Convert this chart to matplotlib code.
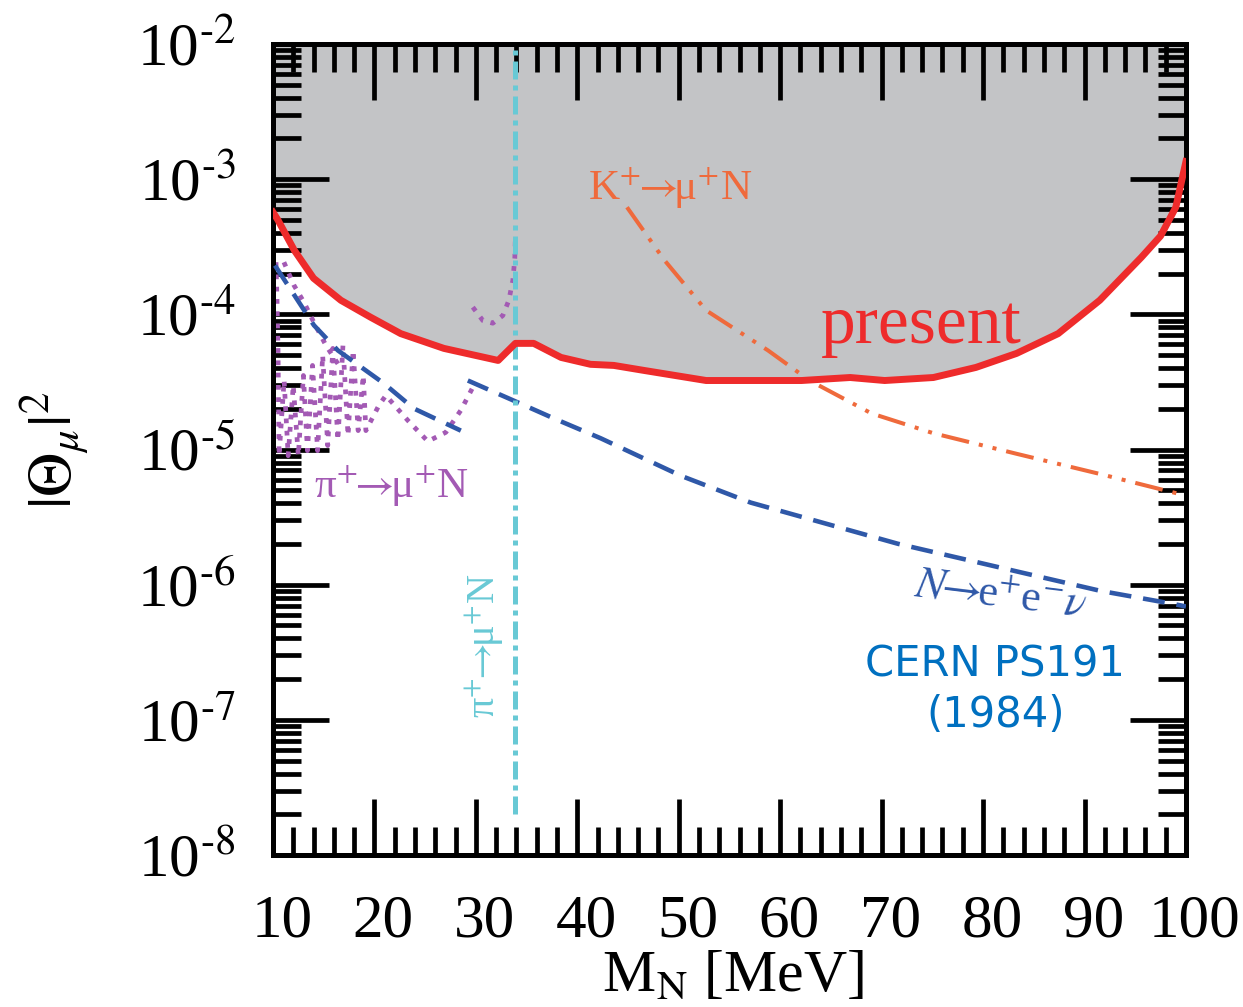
import matplotlib
matplotlib.use('Agg')
import matplotlib.pyplot as plt
import matplotlib.transforms as mtransforms
from matplotlib.ticker import MultipleLocator, LogLocator, NullFormatter, FuncFormatter
import numpy as np

plt.rcParams.update({
    'font.family': ['Liberation Serif', 'DejaVu Serif'],
    'mathtext.fontset': 'stix',
})

# present search bound (red, excluded region above it)
present_m = [10, 10.5, 12.1, 14.0, 16.7, 19.65, 22.6, 26.85, 32.2, 33.9, 35.7,
             38.4, 41.3, 43.6, 46.55, 52.7, 62.1, 66.9, 70.3, 75.1, 79.3, 83.3,
             87.4, 91.5, 95.6, 97.5, 99.0, 100]
present_th = [5.7e-4, 4.97e-4, 2.98e-4, 1.85e-4, 1.27e-4, 9.5e-5, 7.2e-5, 5.6e-5,
              4.56e-5, 6.1e-5, 6.1e-5, 4.8e-5, 4.27e-5, 4.19e-5, 3.85e-5, 3.24e-5,
              3.24e-5, 3.41e-5, 3.24e-5, 3.41e-5, 4.05e-5, 5.14e-5, 7.2e-5, 1.27e-4,
              2.64e-4, 3.8e-4, 6.2e-4, 1.35e-3]

# CERN PS191, N -> e+ e- nu (two pieces)
ps191_m_lo = [10.2, 14.04, 16.40, 20.94, 23.89, 28.52]
ps191_th_lo = [2.3e-4, 8.3e-5, 5.41e-5, 3.08e-5, 2.01e-5, 1.38e-5]
ps191_m_hi = [29.21, 34.14, 37.68, 42.32, 50.20, 57.09, 71.58, 83.00, 91.58, 98.77, 100]
ps191_th_hi = [3.24e-5, 2.23e-5, 1.70e-5, 1.21e-5, 6.4e-6, 4.05e-6, 2.01e-6,
               1.27e-6, 9.0e-7, 7.2e-7, 6.9e-7]

# K+ -> mu+ N peak search
kaon_m = [44.9, 48.6, 52.7, 58.8, 62.9, 69.0, 75.1, 83.3, 91.5, 100]
kaon_th = [6.2e-4, 2.51e-4, 1.07e-4, 5.41e-5, 3.24e-5, 1.85e-5, 1.32e-5,
           9.3e-6, 6.6e-6, 4.56e-6]

# pi+ -> mu+ N peak search (dotted, several pieces)
pion_m_a = [11.08, 12.07, 13.05, 14.04, 15.22, 16.70]
pion_th_a = [2.43e-4, 1.64e-4, 1.23e-4, 8.7e-5, 5.9e-5, 3.98e-5]
pion_m_b = [10.3, 10.4, 10.5, 10.6, 11.1, 11.5, 12.0, 12.5, 13.0, 13.4, 13.9,
            14.4, 14.9, 15.4, 15.9, 16.4, 16.9, 17.4, 17.9, 18.4, 18.9,
            19.16, 20.44, 21.13, 23.30, 25.27, 27.04, 28.52, 29.80]
pion_th_b = [2.43e-4, 1.27e-4, 5.41e-5, 9.0e-6, 3.24e-5, 9.0e-6, 2.98e-5, 9.0e-6,
             3.53e-5, 9.8e-6, 4.19e-5, 9.8e-6, 4.97e-5, 1.07e-5, 5.6e-5, 1.17e-5,
             5.89e-5, 1.27e-5, 5.41e-5, 1.38e-5, 3.53e-5,
             1.38e-5, 2.12e-5, 2.51e-5, 1.64e-5, 1.15e-5, 1.34e-5, 1.95e-5, 2.98e-5]
pion_m_c = [29.70, 30.69, 31.67, 32.66, 33.25, 33.65, 33.84, 33.9]
pion_th_c = [1.13e-4, 9.0e-5, 8.6e-5, 9.8e-5, 1.27e-4, 1.79e-4, 2.60e-4, 3.72e-4]

# kinematic endpoint m_pi - m_mu
pion_edge = 33.9
pion_edge_range = [2.0e-8, 1e-2]

RED = '#EE2B2B'
GRAY = '#C3C4C6'
BLUE = '#2F58A8'
ORANGE = '#EF6A3C'
PURPLE = '#A35AB4'
CYAN = '#68C9D5'

ARROW = r'$\!\!\rightarrow\!\!$'

fig = plt.figure(figsize=(12.43, 10.07), dpi=100)
ax = fig.add_axes([0.2196, 0.1509, 0.7345, 0.8054])
ax.set_yscale('log')
ax.set_xlim(10, 100)
ax.set_ylim(1e-8, 1e-2)

ax.fill_between(present_m, present_th, 1e-2, color=GRAY, lw=0, zorder=1)

dotted = (0, (1, 1.6))
ax.plot(pion_m_a, pion_th_a, color=PURPLE, lw=3.4, ls=dotted, zorder=2)
ax.plot(pion_m_b, pion_th_b, color=PURPLE, lw=3.4, ls=dotted, zorder=2)
ax.plot(pion_m_c, pion_th_c, color=PURPLE, lw=3.4, ls=dotted, zorder=2)

ax.plot(ps191_m_lo, ps191_th_lo, color=BLUE, lw=3.3, ls=(0, (4.8, 2.6)), zorder=3)
ax.plot(ps191_m_hi, ps191_th_hi, color=BLUE, lw=3.3, ls=(0, (4.8, 2.6)), zorder=3)

ax.plot(kaon_m, kaon_th, color=ORANGE, lw=2.9,
        ls=(0, (7, 2.5, 1, 2.5, 1, 2.5)), zorder=3)

ax.plot([pion_edge, pion_edge], pion_edge_range, color=CYAN, lw=3.6,
        ls=(0, (3.6, 1.2, 1, 1.2)), zorder=3)

ax.plot(present_m, present_th, color=RED, lw=5, zorder=4, solid_joinstyle='round')

# labels on the curves
ax.text(64.0, 6.1e-5, 'present', color=RED, fontsize=50, va='baseline', zorder=5)
ax.text(41.1, 7.0e-4, 'K$^{+}$' + ARROW + 'μ$^{+}$N', color=ORANGE, fontsize=31,
        va='baseline', zorder=5)
ax.text(14.04, 4.4e-6, 'π$^{+}$' + ARROW + 'μ$^{+}$N', color=PURPLE, fontsize=31,
        va='baseline', zorder=5)
ax.text(30.8, 3.53e-7, 'π$^{+}$' + ARROW + 'μ$^{+}$N', color=CYAN, fontsize=29,
        rotation=90, ha='center', va='center', zorder=5)
ax.text(81.7, 8.3e-7, '$N$' + ARROW + r'e$^{+}$e$^{-}$$\nu$', color=BLUE,
        fontsize=32, rotation=-7, ha='center', va='center', zorder=5)
ax.text(81.2, 1.67e-7, 'CERN PS191\n(1984)', color='#0070C0', fontsize=30,
        family='DejaVu Sans', ha='center', va='center', linespacing=1.25, zorder=5)

# frame and ticks
for sp in ax.spines.values():
    sp.set_linewidth(3.6)
ax.xaxis.set_major_locator(MultipleLocator(10))
ax.xaxis.set_minor_locator(MultipleLocator(2))
ax.yaxis.set_major_locator(LogLocator(base=10, numticks=20))
ax.yaxis.set_minor_locator(LogLocator(base=10, subs=range(2, 10), numticks=20))
ax.yaxis.set_minor_formatter(NullFormatter())
# decade labels written with a short hyphen in the exponent
ax.yaxis.set_major_formatter(FuncFormatter(
    lambda v, pos: '10$^{\u2010%d}$' % round(-np.log10(v))))
ax.tick_params(which='both', direction='in', top=True, right=True, width=3.4,
               labelsize=44)
ax.tick_params(which='major', length=40)
ax.tick_params(which='minor', length=20)
ax.tick_params(axis='x', which='major', pad=28)
ax.tick_params(axis='y', which='major', pad=27)

shift = mtransforms.ScaledTranslation(0.09, 0, fig.dpi_scale_trans)
for lab in ax.get_xticklabels():
    lab.set_transform(lab.get_transform() + shift)

fig.text(0.044, 0.553, r'$|\Theta_{\mu}|^{2}$', rotation=90, fontsize=44,
         ha='center', va='center')
fig.text(0.59, 0.03, r'M$_{\mathrm{N}}$ [MeV]', fontsize=43, ha='center', va='center')

fig.savefig('out.png', dpi=100)
